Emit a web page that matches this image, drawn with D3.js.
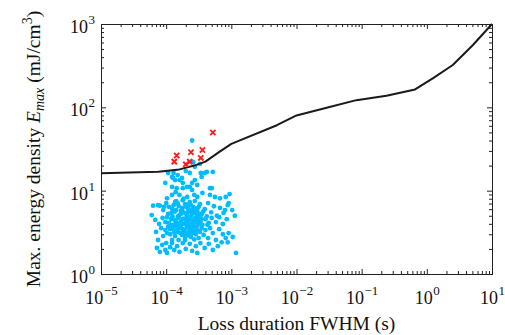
<!DOCTYPE html>
<html>
<head>
<meta charset="utf-8">
<script src="https://cdn.jsdelivr.net/npm/d3@7"></script>
<style>
  body { margin: 0; background: #fff; }
  text { font-family: "Liberation Serif", "Times New Roman", serif; fill: #111; }
</style>
</head>
<body>
<div id="chart"></div>
<script>
// decades shown on each axis (exponents)
const xDecades = [-5, -4, -3, -2, -1, 0, 1];
const yDecades = [0, 1, 2, 3];

// limit curve
const curveX = [1e-5, 7.6e-5, 1.6e-4, 2.7e-4, 4e-4, 6.3e-4, 1e-3, 5e-3, 1e-2, 2.9e-2, 8.3e-2, 0.24, 0.66, 1.25, 2.5, 5.1, 10];
const curveY = [16.2, 16.9, 18, 20, 22.3, 28.6, 36.5, 61, 80, 99, 122, 138, 164, 224, 322, 560, 1000];

// quench events (red crosses)
const quenches = [
  [5.2e-4, 49.9], [1.45e-4, 26.4], [1.33e-4, 22.3], [2.4e-4, 28.9],
  [3.6e-4, 30.8], [3.4e-4, 24.7], [2.3e-4, 22.3], [2.0e-4, 20.7]
];

// beam losses without quench (blue dots)
const losses = [
  [2.5e-4, 40], [2.6e-4, 22], [3.3e-4, 21],
  [2.75e-4, 19.3], [2.3e-4, 16.3], [3.4e-4, 16.3], [5.2e-4, 16.8], [4.7e-4, 10.7],
  [0.97e-4, 12.4], [1.07e-4, 16.3], [1.23e-4, 14.6], [1.37e-4, 13.4], [1.5e-4, 15.4],
  [1.75e-4, 14.2], [1.8e-4, 12.4], [2.1e-4, 11.1], [2.5e-4, 12.4], [2.75e-4, 13.4],
  [3.5e-4, 14.6], [3.9e-4, 16.3], [2.0e-4, 17.2], [4.2e-4, 16.8], [1.3e-4, 16.3],
  [1.28e-4, 14.2], [1.6e-4, 13.4], [1.23e-4, 11.1], [1.45e-4, 10.7], [1.8e-4, 10.7],
  [2.3e-4, 11.1], [2.5e-4, 10.2], [3.0e-4, 11.7], [5.0e-4, 10.7], [4.7e-4, 8.9],
  [5.6e-4, 8.4], [6.7e-4, 8.1], [9.4e-4, 9.1], [8.2e-4, 8.4], [3.6e-4, 9.4],
  [3.0e-4, 8.4], [2.1e-4, 8.4], [1.6e-4, 8.9], [1.23e-4, 8.9], [1.03e-4, 8.1],
  [0.8e-4, 6.6], [1.37e-4, 7.3],
  [0.63e-4, 6.6], [0.75e-4, 6.7], [0.9e-4, 5.85], [1.0e-4, 7.1], [1.1e-4, 6.4],
  [1.2e-4, 5.4], [1.3e-4, 6.7], [1.42e-4, 5.85], [1.5e-4, 7.1], [1.6e-4, 5.1],
  [1.75e-4, 6.2], [1.85e-4, 5.5], [1.95e-4, 6.9], [2.1e-4, 5.0], [2.2e-4, 6.0],
  [2.3e-4, 7.3], [2.5e-4, 5.4], [2.6e-4, 6.4], [2.85e-4, 4.7], [3.0e-4, 5.85],
  [3.3e-4, 6.9], [3.5e-4, 5.2], [3.9e-4, 6.0], [4.4e-4, 7.1], [4.9e-4, 5.5],
  [5.4e-4, 6.5], [6.0e-4, 5.0], [6.7e-4, 6.2], [7.6e-4, 5.4], [8.8e-4, 6.7],
  [1.03e-3, 5.85], [1.13e-3, 5.0],
  [0.68e-4, 4.45], [0.78e-4, 3.98], [0.88e-4, 4.7], [0.97e-4, 4.2], [1.03e-4, 4.8],
  [1.1e-4, 4.1], [1.2e-4, 4.55], [1.28e-4, 3.87], [1.37e-4, 4.45], [1.45e-4, 4.1],
  [1.55e-4, 4.7], [1.68e-4, 4.2], [1.8e-4, 4.55], [1.95e-4, 3.98], [2.0e-4, 4.45],
  [2.15e-4, 4.8], [2.2e-4, 4.1], [2.4e-4, 4.45], [2.55e-4, 3.98], [2.75e-4, 4.55],
  [2.9e-4, 4.2], [3.15e-4, 4.8], [3.35e-4, 4.3], [3.6e-4, 3.87], [4.0e-4, 4.55],
  [4.5e-4, 4.1], [5.0e-4, 4.7], [5.8e-4, 4.2], [6.5e-4, 4.8], [7.4e-4, 3.98],
  [8.5e-4, 4.55],
  [1.42e-4, 7.5], [1.55e-4, 6.55], [1.68e-4, 5.7], [1.8e-4, 7.7], [2.0e-4, 6.4],
  [2.15e-4, 5.5], [2.4e-4, 6.7], [2.55e-4, 5.85], [2.75e-4, 7.5], [2.9e-4, 5.25],
  [3.15e-4, 6.4], [1.23e-4, 6.05], [1.07e-4, 5.25], [0.93e-4, 6.4],
  [0.7e-4, 3.2], [0.75e-4, 2.56], [0.84e-4, 3.55], [0.9e-4, 2.85], [0.97e-4, 3.37],
  [1.0e-4, 2.35], [1.07e-4, 3.7], [1.15e-4, 3.0], [1.23e-4, 2.56], [1.28e-4, 3.45],
  [1.37e-4, 2.85], [1.42e-4, 3.8], [1.5e-4, 3.2], [1.55e-4, 2.56], [1.68e-4, 3.55],
  [1.75e-4, 2.94], [1.85e-4, 3.28], [1.95e-4, 2.7], [2.1e-4, 3.7], [2.15e-4, 3.1],
  [2.3e-4, 3.45], [2.4e-4, 2.78], [2.55e-4, 3.28], [2.6e-4, 3.7], [2.85e-4, 3.0],
  [2.9e-4, 3.45], [3.15e-4, 2.7], [3.3e-4, 3.2], [3.5e-4, 3.55], [3.75e-4, 2.94],
  [4.0e-4, 3.37], [4.4e-4, 2.7], [4.7e-4, 3.55], [5.2e-4, 3.1], [5.8e-4, 2.56],
  [6.5e-4, 3.45], [7.4e-4, 3.0], [8.2e-4, 2.7], [9.1e-4, 3.1], [1.05e-3, 2.78],
  [1.47e-4, 3.37], [1.6e-4, 3.8], [1.8e-4, 3.45], [2.0e-4, 3.0], [2.2e-4, 3.8],
  [2.5e-4, 3.1], [2.75e-4, 3.37], [3.0e-4, 3.8], [1.33e-4, 3.2], [1.2e-4, 3.8],
  [1.03e-4, 3.1],
  [0.72e-4, 2.05], [0.8e-4, 1.84], [0.87e-4, 2.23], [0.97e-4, 1.94], [1.03e-4, 1.79],
  [1.15e-4, 2.1], [1.23e-4, 2.35], [1.33e-4, 1.94], [1.47e-4, 2.16], [1.6e-4, 1.84],
  [1.8e-4, 2.35], [2.0e-4, 2.0], [2.3e-4, 2.3], [2.5e-4, 1.89], [2.85e-4, 2.16],
  [3.0e-4, 1.79], [3.35e-4, 2.35], [3.9e-4, 2.05], [4.5e-4, 2.3], [5.2e-4, 1.94],
  [6.2e-4, 2.16], [7.1e-4, 2.4], [8.8e-4, 2.4], [1.18e-3, 1.79],
  [9.1e-4, 7.1], [8.0e-4, 5.85], [0.6e-4, 5.1],
  [1.35e-4, 5.6], [1.52e-4, 4.9], [1.7e-4, 5.3], [1.9e-4, 4.6], [2.05e-4, 5.2],
  [2.25e-4, 4.6], [2.45e-4, 5.0], [2.65e-4, 4.3], [2.8e-4, 5.6], [3.05e-4, 4.4],
  [3.25e-4, 5.3], [3.45e-4, 4.6], [1.4e-4, 4.3], [1.62e-4, 3.6], [1.78e-4, 4.0],
  [1.92e-4, 3.4], [2.08e-4, 3.9], [2.28e-4, 3.3], [2.42e-4, 3.7], [2.62e-4, 3.15],
  [2.82e-4, 3.6], [3.05e-4, 3.3], [1.25e-4, 4.9], [1.15e-4, 3.45], [1.75e-4, 5.9],
  [2.35e-4, 5.7], [2.95e-4, 6.1], [3.7e-4, 5.6], [4.2e-4, 4.9], [4.3e-4, 3.9],
  [1.95e-4, 2.55], [2.2e-4, 2.9], [2.7e-4, 2.6], [1.65e-4, 3.1], [1.4e-4, 3.9],
  [3.2e-4, 4.0], [2.2e-4, 6.8], [1.85e-4, 8.0], [2.7e-4, 8.9], [1.4e-4, 9.6]
];

const width = 505;
const height = 335;
const margin = { left: 101, right: 13, top: 24, bottom: 61 };
const plotW = width - margin.left - margin.right;
const plotH = height - margin.top - margin.bottom;

const svg = d3.select('#chart')
  .append('svg')
  .attr('width', width)
  .attr('height', height);

const x = d3.scaleLog().domain([1e-5, 10]).range([margin.left, margin.left + plotW]);
const y = d3.scaleLog().domain([1, 1000]).range([margin.top + plotH, margin.top]);

// major + minor tick values
const majors = (decs) => decs.map(d => Math.pow(10, d));
const minors = (decs) => {
  const out = [];
  decs.slice(0, -1).forEach(d => {
    for (let k = 2; k <= 9; k++) out.push(k * Math.pow(10, d));
  });
  return out;
};

const frame = svg.append('g').attr('class', 'frame');
const axes = [
  { gen: d3.axisBottom(x), t: 'translate(0,' + (margin.top + plotH) + ')', dir: 'x' },
  { gen: d3.axisTop(x), t: 'translate(0,' + margin.top + ')', dir: 'x' },
  { gen: d3.axisLeft(y), t: 'translate(' + margin.left + ',0)', dir: 'y' },
  { gen: d3.axisRight(y), t: 'translate(' + (margin.left + plotW) + ',0)', dir: 'y' }
];
axes.forEach(a => {
  const decs = a.dir === 'x' ? xDecades : yDecades;
  frame.append('g')
    .attr('transform', a.t)
    .call(a.gen.tickValues(majors(decs)).tickSize(-5).tickFormat(''))
    .call(g => g.selectAll('path, line').attr('stroke', '#222').attr('stroke-width', 1));
  frame.append('g')
    .attr('transform', a.t)
    .call(a.gen.tickValues(minors(decs)).tickSize(-3).tickFormat(''))
    .call(g => g.select('.domain').remove())
    .call(g => g.selectAll('line').attr('stroke', '#222').attr('stroke-width', 1));
});

// tick labels 10^n
const sup = (n) => (n < 0 ? '\u2212' + (-n) : '' + n);
const xLab = svg.append('g').selectAll('text')
  .data(xDecades)
  .enter()
  .append('text')
  .attr('x', d => x(Math.pow(10, d)) + 0.5)
  .attr('y', margin.top + plotH + 30)
  .attr('text-anchor', 'middle')
  .style('font-size', '18px');
xLab.append('tspan').text('10');
xLab.append('tspan').attr('dy', -9).attr('dx', 0.5).style('font-size', '13px').text(d => sup(d));

const yLab = svg.append('g').selectAll('text')
  .data(yDecades)
  .enter()
  .append('text')
  .attr('x', margin.left - 6)
  .attr('y', d => y(Math.pow(10, d)) + 9)
  .attr('text-anchor', 'end')
  .style('font-size', '18px');
yLab.append('tspan').text('10');
yLab.append('tspan').attr('dy', -9).attr('dx', 0.5).style('font-size', '13px').text(d => sup(d));

// axis titles
svg.append('text')
  .attr('x', margin.left + plotW / 2)
  .attr('y', 330)
  .attr('text-anchor', 'middle')
  .style('font-size', '19.5px')
  .text('Loss duration FWHM (s)');

const yTitle = svg.append('text')
  .attr('transform', 'translate(40,149) rotate(-90)')
  .attr('text-anchor', 'middle')
  .style('font-size', '19.5px');
yTitle.append('tspan').text('Max. energy density ');
yTitle.append('tspan').style('font-style', 'italic').text('E');
yTitle.append('tspan').attr('dy', 4).style('font-style', 'italic').style('font-size', '14px').text('max');
yTitle.append('tspan').attr('dy', -4).text(' (mJ/cm');
yTitle.append('tspan').attr('dy', -8).style('font-size', '14px').text('3');
yTitle.append('tspan').attr('dy', 8).text(')');

// blue dots
svg.append('g').selectAll('circle')
  .data(losses)
  .enter()
  .append('circle')
  .attr('cx', d => x(d[0]))
  .attr('cy', d => y(d[1]))
  .attr('r', 2.4)
  .attr('fill', '#00bbff');

// limit curve
const line = d3.line()
  .x(d => x(d[0]))
  .y(d => y(d[1]));
svg.append('path')
  .datum(curveX.map((v, i) => [v, curveY[i]]))
  .attr('fill', 'none')
  .attr('stroke', '#1a1a1a')
  .attr('stroke-width', 2)
  .attr('stroke-linejoin', 'round')
  .attr('d', line);

// red crosses
svg.append('g').selectAll('path')
  .data(quenches)
  .enter()
  .append('path')
  .attr('transform', d => 'translate(' + x(d[0]) + ',' + y(d[1]) + ')')
  .attr('d', 'M-2.6,-2.6L2.6,2.6M-2.6,2.6L2.6,-2.6')
  .attr('stroke', '#ff1a1a')
  .attr('stroke-width', 1.9)
  .attr('fill', 'none');
</script>
</body>
</html>
